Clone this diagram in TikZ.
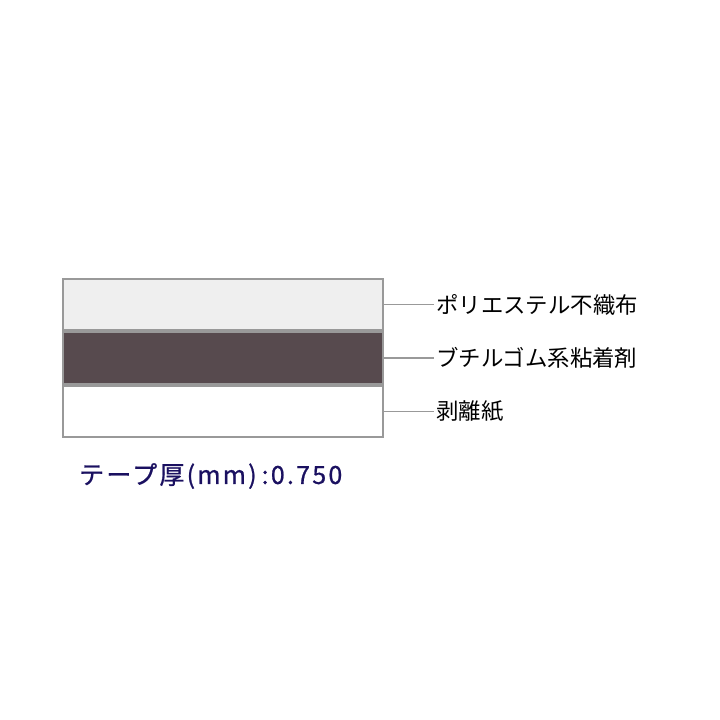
\documentclass[tikz,border=0pt]{standalone}
\usepackage{fontspec}
\newfontfamily\jp{Noto Sans CJK JP}
\newfontfamily\jpwide[LetterSpace=9,FakeBold=0.8]{Noto Sans CJK JP}
\definecolor{bordergray}{HTML}{999999}
\definecolor{toplayer}{HTML}{EFEFEF}
\definecolor{midlayer}{HTML}{574A4E}
\definecolor{navy}{HTML}{1A1060}
\begin{document}
\begin{tikzpicture}[x=1pt,y=-1pt,
  layer/.style={draw=bordergray, line width=2pt, minimum width=320pt, inner sep=0pt, anchor=north west},
  lbl/.style={font=\jp\fontsize{22.4}{26}\selectfont, text=black, inner sep=0pt, anchor=west},
  leader/.style={draw=bordergray, line width=1.3pt}]
\useasboundingbox (0,0) rectangle (720,720);
\node[layer, fill=toplayer, minimum height=51pt] (top) at (62,278) {};
\node[layer, fill=midlayer, minimum height=52pt] (mid) at (62,331) {};
\node[layer, fill=white, minimum height=51pt] (bot) at (62,385) {};
\node[lbl] (l1) at ([xshift=52pt]top.east) {ポリエステル不織布};
\node[lbl] (l2) at ([xshift=52pt]mid.east) {ブチルゴム系粘着剤};
\node[lbl] (l3) at ([xshift=52pt]bot.east) {剥離紙};
\draw[leader] (top.east) -- ([xshift=-2pt]l1.west);
\draw[leader] (mid.east) -- ([xshift=-2pt]l2.west);
\draw[leader] (bot.east) -- ([xshift=-2pt]l3.west);
\node[font=\jpwide\fontsize{25}{29}\selectfont, text=navy, inner sep=0pt, anchor=west] (thick) at (79,476) {テープ厚(mm)\hspace{5pt}:0.750};
\end{tikzpicture}
\end{document}
